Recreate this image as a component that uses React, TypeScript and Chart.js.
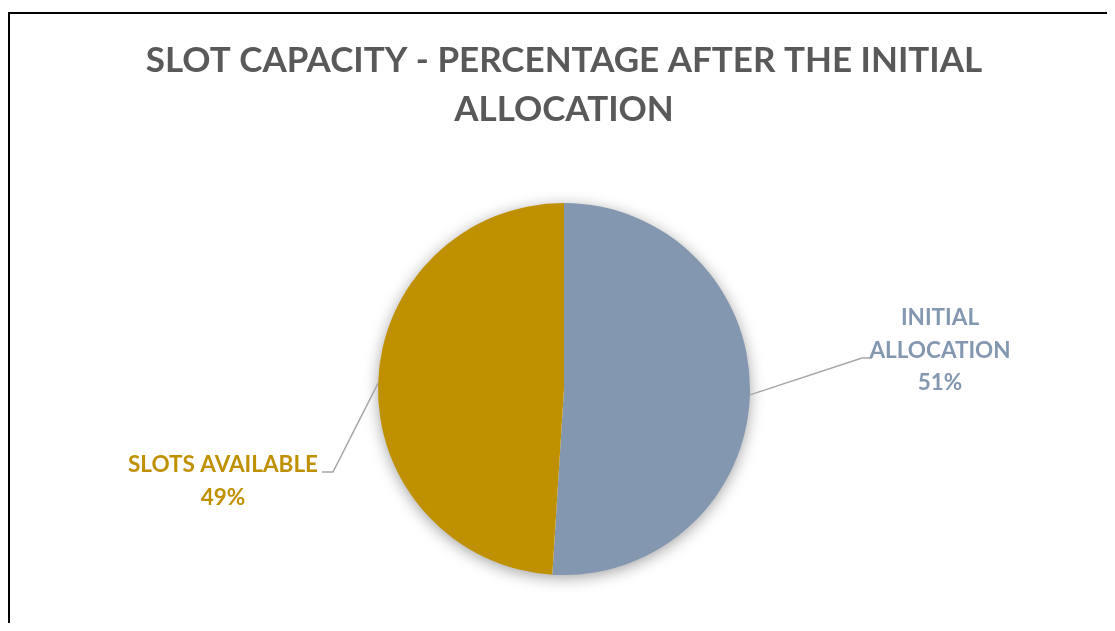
import React, { useEffect, useRef } from "react";
import { Chart, registerables } from "chart.js";

Chart.register(...registerables);

const categories = ["INITIAL ALLOCATION", "SLOTS AVAILABLE"];
const values = [51, 49];
const colors = ["#8497B0", "#BF9000"];
const labelLines = [["INITIAL", "ALLOCATION"], ["SLOTS AVAILABLE"]];
const titleLines = ["SLOT CAPACITY - PERCENTAGE AFTER THE INITIAL", "ALLOCATION"];

const FONT = "Lato";

const pieShadow = {
  id: "pieShadow",
  beforeDatasetsDraw(chart: any) {
    const arc = chart.getDatasetMeta(0).data[0];
    if (!arc) return;
    const { x, y, outerRadius } = arc.getProps(["x", "y", "outerRadius"], true);
    const ctx = chart.ctx;
    ctx.save();
    ctx.shadowColor = "rgba(0,0,0,0.4)";
    ctx.shadowBlur = 16;
    ctx.shadowOffsetY = 3;
    ctx.fillStyle = "#ffffff";
    ctx.beginPath();
    ctx.arc(x, y, outerRadius - 1, 0, Math.PI * 2);
    ctx.fill();
    ctx.restore();
  },
};

const titlePlugin = {
  id: "customTitle",
  afterDraw(chart: any) {
    const ctx = chart.ctx;
    const cx = (chart.chartArea.left + chart.chartArea.right) / 2;
    ctx.save();
    ctx.fillStyle = "#595959";
    ctx.font = `bold 35px ${FONT}`;
    ctx.textAlign = "center";
    ctx.textBaseline = "middle";
    titleLines.forEach((t, i) => ctx.fillText(t, cx, 47 + i * 49));
    ctx.restore();
  },
};

const leaderLabels = {
  id: "leaderLabels",
  afterDatasetsDraw(chart: any, _args: any, opts: any) {
    const ctx = chart.ctx;
    const meta = chart.getDatasetMeta(0);
    const ds = chart.data.datasets[0];
    meta.data.forEach((arc: any, i: number) => {
      const p = arc.getProps(["x", "y", "startAngle", "endAngle", "outerRadius"], true);
      const mid = (p.startAngle + p.endAngle) / 2;
      const ax = p.x + Math.cos(mid) * p.outerRadius;
      const ay = p.y + Math.sin(mid) * p.outerRadius;
      const item = opts.items[i];
      ctx.save();
      ctx.strokeStyle = "#A6A6A6";
      ctx.lineWidth = 1.5;
      ctx.beginPath();
      ctx.moveTo(ax, ay);
      ctx.lineTo(item.elbow[0], item.elbow[1]);
      ctx.lineTo(item.end[0], item.end[1]);
      ctx.stroke();
      const lines = [...labelLines[i], `${ds.data[i]}%`];
      ctx.fillStyle = ds.backgroundColor[i];
      ctx.font = `bold 22.5px ${FONT}`;
      ctx.textAlign = "center";
      ctx.textBaseline = "middle";
      lines.forEach((t: string, k: number) => ctx.fillText(t, item.x, item.y + k * 32.5));
      ctx.restore();
    });
  },
};

export default function App() {
  const ref = useRef<HTMLCanvasElement | null>(null);
  useEffect(() => {
    if (!ref.current) return;
    const chart = new Chart(ref.current, {
      type: "pie",
      data: {
        labels: categories,
        datasets: [
          {
            data: values,
            backgroundColor: colors,
            borderWidth: 0,
          },
        ],
      },
      options: {
        animation: false,
        responsive: true,
        maintainAspectRatio: false,
        layout: { padding: { top: 189, bottom: 52, left: 3, right: 0 } },
        plugins: {
          legend: { display: false },
          title: { display: false },
          tooltip: { enabled: false },
          leaderLabels: {
            items: [
              { elbow: [852, 344], end: [862, 344], x: 930, y: 304 },
              { elbow: [323, 458], end: [312, 458], x: 213, y: 451 },
            ],
          },
        } as any,
      },
      plugins: [pieShadow, titlePlugin, leaderLabels],
    });
    return () => chart.destroy();
  }, []);
  return (
    <div
      style={{
        position: "relative",
        top: 4,
        width: 1107,
        height: 615,
        boxSizing: "border-box",
        borderTop: "2px solid #000",
        borderLeft: "2px solid #000",
        background: "#fff",
      }}
    >
      <div style={{ position: "relative", width: "100%", height: "100%" }}>
        <canvas ref={ref} />
      </div>
    </div>
  );
}
